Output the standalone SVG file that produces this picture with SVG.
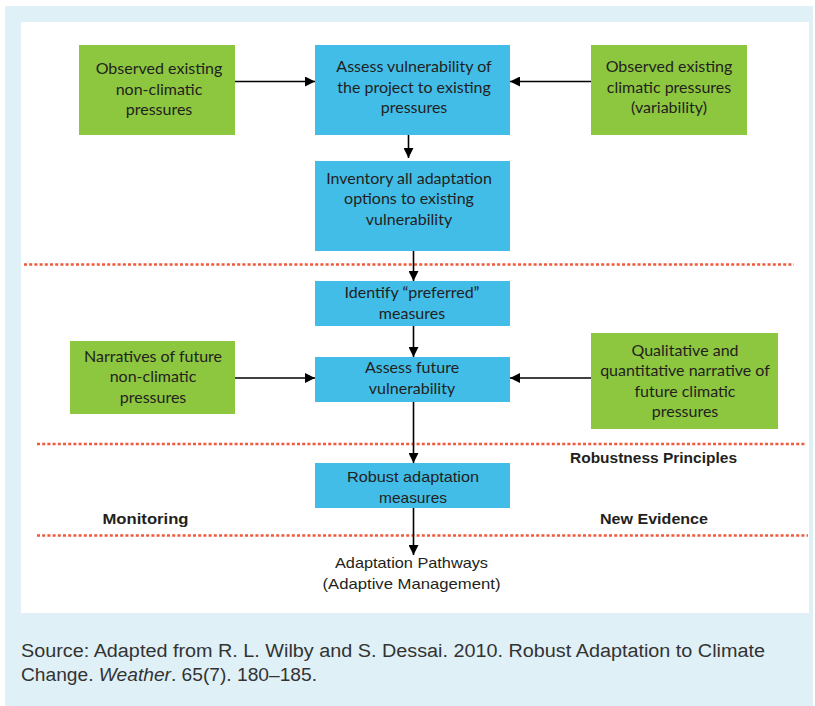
<svg xmlns="http://www.w3.org/2000/svg" width="815" height="706" viewBox="0 0 815 706">
  <style>
    .green { fill: #8dc63f; }
    .blue { fill: #41bde8; }
    .lbl { font-family: Lato, "Liberation Sans", sans-serif; font-size: 16px; fill: #231f20; text-anchor: middle; }
    .cond { font-family: "Liberation Sans", sans-serif; font-size: 15px; fill: #231f20; }
    .bold { font-weight: bold; }
    .src { font-family: "Liberation Sans", sans-serif; font-size: 18px; fill: #333333; }
    .sep { stroke: #f05a3a; stroke-width: 2.5; stroke-dasharray: 3 2.2; fill: none; }
    .edge { stroke: #000; stroke-width: 1.6; fill: none; marker-end: url(#head); }
  </style>
  <defs>
    <marker id="head" viewBox="0 0 10 10" refX="10" refY="5" markerWidth="10" markerHeight="10" markerUnits="userSpaceOnUse" orient="auto">
      <path d="M0,0 L10,5 L0,10 Z" fill="#000"/>
    </marker>
  </defs>

  <!-- panel background -->
  <rect x="5" y="6" width="808" height="700" fill="#dff0f7"/>
  <rect x="21" y="22" width="788" height="591" fill="#ffffff"/>

  <!-- phase separators -->
  <g id="separators">
    <line class="sep" x1="24" y1="264.5" x2="794" y2="264.5"/>
    <line class="sep" x1="37" y1="444" x2="806" y2="444"/>
    <line class="sep" x1="37" y1="535.5" x2="808" y2="535.5"/>
  </g>

  <g id="connectors">
    <line class="edge" x1="235" y1="81.5" x2="315" y2="81.5"/>
    <line class="edge" x1="591" y1="81.5" x2="510" y2="81.5"/>
    <line class="edge" x1="408.5" y1="135" x2="408.5" y2="158"/>
    <line class="edge" x1="413.5" y1="251" x2="413.5" y2="281"/>
    <line class="edge" x1="413.5" y1="326" x2="413.5" y2="357"/>
    <line class="edge" x1="235" y1="378" x2="315" y2="378"/>
    <line class="edge" x1="591" y1="378" x2="510" y2="378"/>
    <line class="edge" x1="413.5" y1="402" x2="413.5" y2="463"/>
    <line class="edge" x1="413.5" y1="508" x2="413.5" y2="555"/>
  </g>

  <g id="observed-non-climatic">
    <rect class="green" x="79" y="45" width="156" height="90"/>
    <text class="lbl" x="159" y="74">Observed existing</text>
    <text class="lbl" x="159" y="94.5">non-climatic</text>
    <text class="lbl" x="159" y="115">pressures</text>
  </g>

  <g id="assess-existing">
    <rect class="blue" x="315" y="45" width="195" height="90"/>
    <text class="lbl" x="414" y="72">Assess vulnerability of</text>
    <text class="lbl" x="414" y="92.5">the project to existing</text>
    <text class="lbl" x="414" y="113">pressures</text>
  </g>

  <g id="observed-climatic">
    <rect class="green" x="591" y="45" width="156" height="90"/>
    <text class="lbl" x="669" y="72">Observed existing</text>
    <text class="lbl" x="669" y="92.5">climatic pressures</text>
    <text class="lbl" x="669" y="113">(variability)</text>
  </g>

  <g id="inventory-options">
    <rect class="blue" x="315" y="161" width="195" height="90"/>
    <text class="lbl" x="409" y="183.5">Inventory all adaptation</text>
    <text class="lbl" x="409" y="204">options to existing</text>
    <text class="lbl" x="409" y="224.5">vulnerability</text>
  </g>

  <g id="identify-preferred">
    <rect class="blue" x="315" y="281" width="195" height="45"/>
    <text class="lbl" x="412" y="298">Identify “preferred”</text>
    <text class="lbl" x="412" y="318.5">measures</text>
  </g>

  <g id="future-non-climatic">
    <rect class="green" x="70" y="341" width="165" height="73"/>
    <text class="lbl" x="153" y="362">Narratives of future</text>
    <text class="lbl" x="153" y="382">non-climatic</text>
    <text class="lbl" x="153" y="402.5">pressures</text>
  </g>

  <g id="assess-future">
    <rect class="blue" x="315" y="357" width="195" height="45"/>
    <text class="lbl" x="412" y="373">Assess future</text>
    <text class="lbl" x="412" y="393.5">vulnerability</text>
  </g>

  <g id="future-climatic">
    <rect class="green" x="591" y="333" width="187" height="96"/>
    <text class="lbl" x="685" y="355.5">Qualitative and</text>
    <text class="lbl" x="685" y="376">quantitative narrative of</text>
    <text class="lbl" x="685" y="396.5">future climatic</text>
    <text class="lbl" x="685" y="417">pressures</text>
  </g>

  <g id="robust-measures">
    <rect class="blue" x="315" y="463" width="195" height="45"/>
    <text class="cond" x="413" y="482" text-anchor="middle" textLength="132" lengthAdjust="spacingAndGlyphs">Robust adaptation</text>
    <text class="cond" x="413" y="502.5" text-anchor="middle" textLength="68" lengthAdjust="spacingAndGlyphs">measures</text>
  </g>

  <g id="band-labels">
    <text class="cond bold" x="570" y="463" textLength="167" lengthAdjust="spacingAndGlyphs">Robustness Principles</text>
    <text class="cond bold" x="102.5" y="524" textLength="86" lengthAdjust="spacingAndGlyphs">Monitoring</text>
    <text class="cond bold" x="600" y="524" textLength="108" lengthAdjust="spacingAndGlyphs">New Evidence</text>
  </g>

  <g id="adaptation-pathways">
    <text class="cond" x="335" y="568" textLength="153" lengthAdjust="spacingAndGlyphs">Adaptation Pathways</text>
    <text class="cond" x="322.5" y="589" textLength="178" lengthAdjust="spacingAndGlyphs">(Adaptive Management)</text>
  </g>

  <!-- citation -->
  <text class="src" x="21" y="657" textLength="744" lengthAdjust="spacingAndGlyphs">Source: Adapted from R. L. Wilby and S. Dessai. 2010. Robust Adaptation to Climate</text>
  <text class="src" x="21" y="681" textLength="296" lengthAdjust="spacingAndGlyphs">Change. <tspan font-style="italic">Weather</tspan>. 65(7). 180–185.</text>
</svg>
